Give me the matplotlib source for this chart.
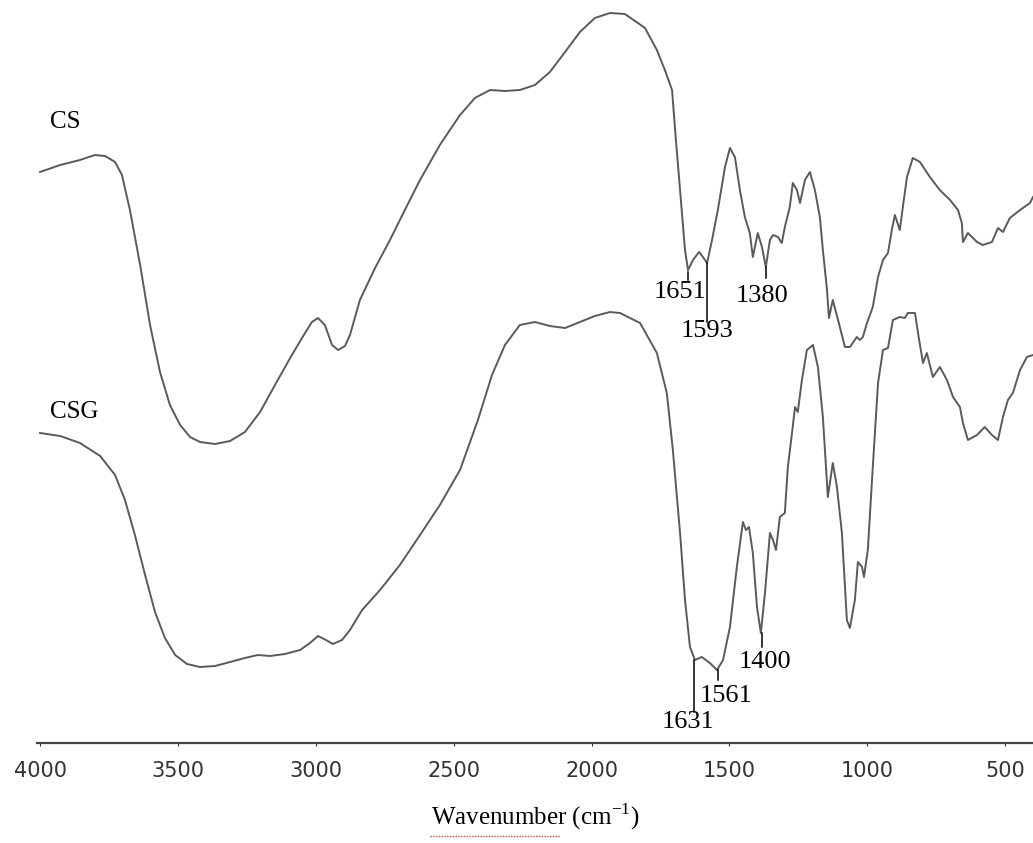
import numpy as np
import matplotlib
matplotlib.use("Agg")
import matplotlib.pyplot as plt
from matplotlib.lines import Line2D

# FTIR spectra of CS and CSG, transmittance in arbitrary units (offset curves)

cs_wn = [4000, 3927, 3855, 3801, 3764, 3728, 3703, 3674, 3637, 3601, 3565, 3529, 3492, 3456,
         3420, 3365, 3311, 3257, 3202, 3148, 3093, 3050, 3014, 2992, 2967, 2941, 2919, 2894,
         2876, 2840, 2785, 2731, 2677, 2622, 2550, 2477, 2423, 2368, 2314, 2260, 2205, 2151,
         2096, 2042, 1988, 1933, 1879, 1806, 1763, 1734, 1708, 1694, 1679, 1661, 1650, 1632,
         1610, 1596, 1581, 1563, 1542, 1516, 1498, 1480, 1462, 1444, 1426, 1415, 1397, 1382,
         1368, 1353, 1342, 1324, 1310, 1299, 1281, 1270, 1255, 1244, 1226, 1208, 1190, 1172,
         1161, 1146, 1139, 1125, 1106, 1081, 1063, 1038, 1027, 1016, 1001, 980, 961, 943, 925,
         911, 900, 882, 871, 856, 835, 809, 773, 737, 700, 671, 657, 653, 635, 602, 581, 548,
         526, 508, 483, 446, 410, 399]
cs_t = [571, 578, 583, 588, 587, 581, 568, 533, 478, 418, 371, 338, 318, 306,
        301, 299, 302, 311, 331, 358, 385, 405, 421, 425, 418, 398, 393, 397,
        408, 443, 475, 503, 533, 563, 598, 628, 645, 653, 652, 653, 658, 671,
        691, 711, 725, 730, 729, 715, 693, 673, 653, 603, 553, 493, 473, 483,
        491, 486, 480, 503, 533, 576, 595, 586, 553, 526, 510, 486, 510, 496,
        476, 503, 508, 506, 500, 516, 536, 560, 553, 540, 563, 571, 553, 526,
        493, 453, 425, 443, 423, 396, 396, 406, 403, 406, 420, 436, 466, 483, 490,
        513, 528, 513, 536, 566, 585, 581, 566, 553, 543, 533, 520, 501, 510, 501, 498, 501,
        515, 511, 525, 533, 540, 546]

csg_wn = [4000, 3927, 3855, 3782, 3728, 3692, 3656, 3619, 3583, 3547, 3510, 3467, 3420, 3365,
          3311, 3257, 3210, 3166, 3112, 3057, 3021, 2992, 2963, 2938, 2905, 2876, 2832, 2767,
          2695, 2622, 2550, 2477, 2412, 2361, 2314, 2260, 2205, 2151, 2096, 2042, 1988, 1933,
          1897, 1824, 1763, 1727, 1705, 1679, 1661, 1643, 1625, 1600, 1571, 1545, 1523, 1498,
          1473, 1451, 1440, 1429, 1415, 1400, 1386, 1371, 1353, 1342, 1331, 1317, 1299, 1288,
          1273, 1262, 1252, 1237, 1219, 1197, 1179, 1161, 1143, 1125, 1110, 1092, 1074, 1063,
          1045, 1034, 1019, 1012, 998, 980, 961, 943, 925, 907, 882, 864, 853, 827, 816, 798,
          784, 762, 737, 711, 689, 664, 653, 635, 602, 574, 548, 526, 508, 490, 472, 446, 421, 399]
csg_t = [310, 307, 300, 287, 268, 243, 208, 168, 131, 105, 88, 79, 76, 77,
         81, 85, 88, 87, 89, 93, 100, 107, 103, 99, 103, 113, 133, 153,
         178, 208, 238, 273, 323, 368, 398, 418, 421, 417, 415, 421, 427, 431,
         430, 420, 390, 350, 293, 210, 143, 96, 83, 86, 80, 73, 83, 116,
         176, 221, 213, 216, 190, 136, 110, 150, 210, 203, 193, 226, 230, 276,
         310, 336, 331, 363, 393, 398, 376, 326, 246, 280, 256, 210, 123, 115,
         143, 181, 176, 166, 193, 276, 360, 393, 395, 423, 426, 425, 430, 430, 410, 380,
         390, 366, 376, 363, 346, 336, 320, 303, 308, 316, 308, 303, 326, 343, 350, 373, 386, 388]

# peak labels: text, wavenumber of the marker line
peak_text = ["1651", "1593", "1380", "1631", "1561", "1400"]
peak_wn = [1650, 1581, 1368, 1629, 1542, 1382]

fig = plt.figure(figsize=(10.33, 8.43), dpi=100)
ax = fig.add_axes([37 / 1033, 100 / 843, 996 / 1033, 743 / 843])

ax.plot(cs_wn, cs_t, color="#5a5a5a", lw=1.4)
ax.plot(csg_wn, csg_t, color="#5a5a5a", lw=1.4)

# marker lines (y from, y to) and label positions
line_y = [(471, 463), (480, 421), (476, 465), (83, 31), (73, 63), (110, 96)]
label_xy = [(1679, 451), (1581, 412), (1382, 447), (1650, 21), (1513, 47), (1371, 81)]
for txt, wn, (y1, y2), (tx, ty) in zip(peak_text, peak_wn, line_y, label_xy):
    ax.plot([wn, wn], [y1, y2], color="black", lw=1.1)
    ax.text(tx, ty, txt, ha="center", va="center", fontsize=19,
            family="Liberation Serif")

ax.text(3965, 743 - 122, "CS", fontsize=18, family="Liberation Serif", va="center", ha="left")
ax.text(3965, 743 - 412, "CSG", fontsize=18, family="Liberation Serif", va="center", ha="left")

ax.set_xlim(4011, 399)
ax.set_ylim(0, 743)
ax.set_xticks([4000, 3500, 3000, 2500, 2000, 1500, 1000, 500])
ax.tick_params(axis="x", length=2, pad=11, labelsize=15, colors="#333333")
ax.set_yticks([])
for s in ["top", "left", "right"]:
    ax.spines[s].set_visible(False)
ax.spines["bottom"].set_linewidth(1.6)
ax.spines["bottom"].set_color("#444444")

fig.text(535 / 1033, 1 - 817 / 843, r"Wavenumber (cm$^{\mathregular{-1}}$)", ha="center",
         va="center", fontsize=18, family="Liberation Serif")
# spell-check squiggle under the word, as in the source figure
fig.add_artist(Line2D([430 / 1033, 560 / 1033], [1 - 836 / 843, 1 - 836 / 843],
                      color="#d04040", lw=1.0, linestyle=(0, (1, 1))))

fig.savefig("out.png", dpi=100)
